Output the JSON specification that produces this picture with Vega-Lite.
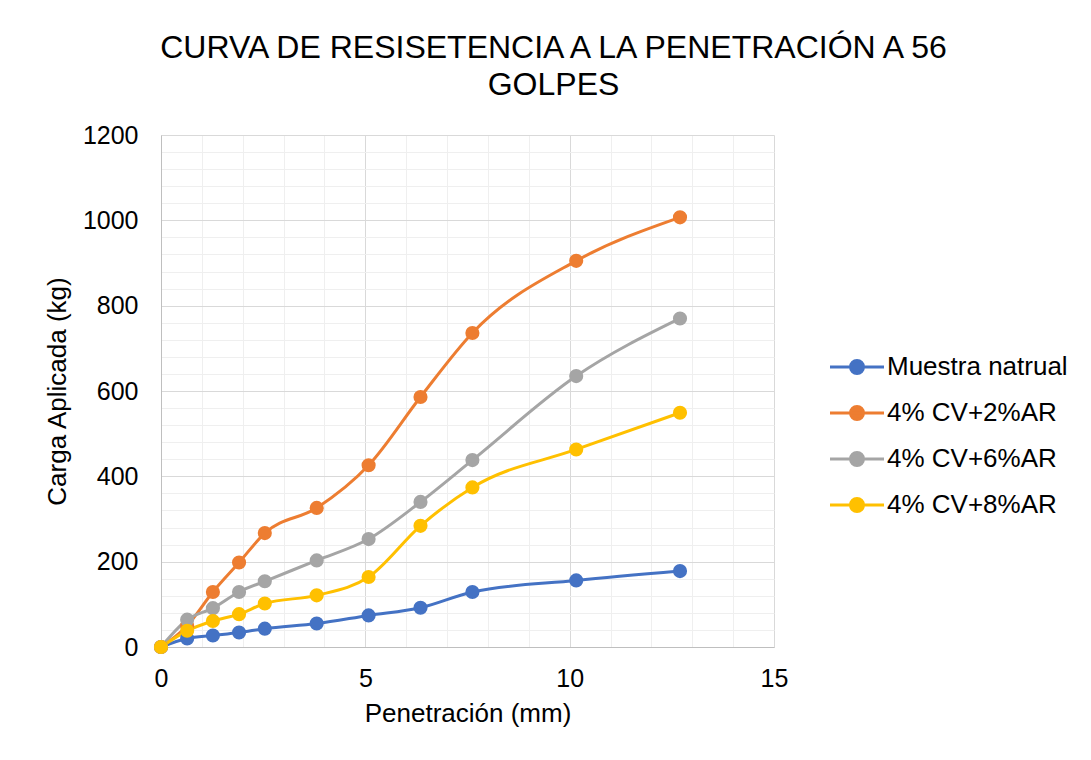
{
  "$schema": "https://vega.github.io/schema/vega-lite/v6.json",
  "width": 613,
  "height": 512,
  "autosize": {"type": "none"},
  "padding": {"left": 161, "top": 135, "right": 317, "bottom": 113},
  "background": "white",
  "config": {
    "font": "Liberation Sans",
    "view": {"stroke": null},
    "axis": {"labelColor": "#000000", "titleColor": "#000000", "titleFontWeight": "normal", "labelFlush": false}
  },
  "title": {
    "text": ["CURVA DE RESISETENCIA A LA PENETRACIÓN A 56", "GOLPES"],
    "fontSize": 32,
    "fontWeight": "normal",
    "color": "#000000",
    "anchor": "middle",
    "dx": 86,
    "offset": 21,
    "lineHeight": 37
  },
  "data": {
    "values": [
      {"serie": "Muestra natrual", "x": 0, "y": 0},
      {"serie": "Muestra natrual", "x": 0.64, "y": 20},
      {"serie": "Muestra natrual", "x": 1.27, "y": 27},
      {"serie": "Muestra natrual", "x": 1.91, "y": 34},
      {"serie": "Muestra natrual", "x": 2.54, "y": 43},
      {"serie": "Muestra natrual", "x": 3.81, "y": 55},
      {"serie": "Muestra natrual", "x": 5.08, "y": 74},
      {"serie": "Muestra natrual", "x": 6.35, "y": 92},
      {"serie": "Muestra natrual", "x": 7.62, "y": 129},
      {"serie": "Muestra natrual", "x": 10.16, "y": 156},
      {"serie": "Muestra natrual", "x": 12.7, "y": 178},
      {"serie": "4% CV+2%AR", "x": 0, "y": 0},
      {"serie": "4% CV+2%AR", "x": 0.64, "y": 50},
      {"serie": "4% CV+2%AR", "x": 1.27, "y": 129},
      {"serie": "4% CV+2%AR", "x": 1.91, "y": 198},
      {"serie": "4% CV+2%AR", "x": 2.54, "y": 267},
      {"serie": "4% CV+2%AR", "x": 3.81, "y": 326},
      {"serie": "4% CV+2%AR", "x": 5.08, "y": 426},
      {"serie": "4% CV+2%AR", "x": 6.35, "y": 586},
      {"serie": "4% CV+2%AR", "x": 7.62, "y": 736},
      {"serie": "4% CV+2%AR", "x": 10.16, "y": 905},
      {"serie": "4% CV+2%AR", "x": 12.7, "y": 1007},
      {"serie": "4% CV+6%AR", "x": 0, "y": 0},
      {"serie": "4% CV+6%AR", "x": 0.64, "y": 64},
      {"serie": "4% CV+6%AR", "x": 1.27, "y": 91},
      {"serie": "4% CV+6%AR", "x": 1.91, "y": 129},
      {"serie": "4% CV+6%AR", "x": 2.54, "y": 154},
      {"serie": "4% CV+6%AR", "x": 3.81, "y": 203},
      {"serie": "4% CV+6%AR", "x": 5.08, "y": 253},
      {"serie": "4% CV+6%AR", "x": 6.35, "y": 340},
      {"serie": "4% CV+6%AR", "x": 7.62, "y": 438},
      {"serie": "4% CV+6%AR", "x": 10.16, "y": 635},
      {"serie": "4% CV+6%AR", "x": 12.7, "y": 770},
      {"serie": "4% CV+8%AR", "x": 0, "y": 0},
      {"serie": "4% CV+8%AR", "x": 0.64, "y": 38},
      {"serie": "4% CV+8%AR", "x": 1.27, "y": 61},
      {"serie": "4% CV+8%AR", "x": 1.91, "y": 77},
      {"serie": "4% CV+8%AR", "x": 2.54, "y": 102},
      {"serie": "4% CV+8%AR", "x": 3.81, "y": 121},
      {"serie": "4% CV+8%AR", "x": 5.08, "y": 164},
      {"serie": "4% CV+8%AR", "x": 6.35, "y": 284},
      {"serie": "4% CV+8%AR", "x": 7.62, "y": 374},
      {"serie": "4% CV+8%AR", "x": 10.16, "y": 463},
      {"serie": "4% CV+8%AR", "x": 12.7, "y": 549}
    ]
  },
  "resolve": {"axis": {"x": "independent", "y": "independent"}},
  "layer": [
    {
      "mark": {"type": "line", "interpolate": "monotone", "strokeWidth": 3},
      "encoding": {
        "x": {
          "field": "x", "type": "quantitative",
          "scale": {"domain": [0, 15], "nice": false, "zero": false},
          "axis": {"orient": "bottom", "values": [0,1,2,3,4,6,7,8,9,11,12,13,14], "grid": true, "gridColor": "#efefef", "gridWidth": 1, "labels": false, "ticks": false, "domain": false, "title": null}
        },
        "y": {
          "field": "y", "type": "quantitative",
          "scale": {"domain": [0, 1200], "nice": false},
          "axis": {"orient": "left", "values": [40,80,120,160,240,280,320,360,440,480,520,560,640,680,720,760,840,880,920,960,1040,1080,1120,1160], "grid": true, "gridColor": "#efefef", "gridWidth": 1, "labels": false, "ticks": false, "domain": false, "title": null}
        },
        "color": {
          "field": "serie", "type": "nominal",
          "scale": {
            "domain": ["Muestra natrual", "4% CV+2%AR", "4% CV+6%AR", "4% CV+8%AR"],
            "range": ["#4472C4", "#ED7D31", "#A5A5A5", "#FFC000"]
          },
          "legend": {
            "orient": "none",
            "legendX": 683,
            "legendY": 219,
            "title": null,
            "padding": 0,
            "symbolType": "M-3.375,0L3.375,0M-0.81,0A0.81,0.81,0,1,1,0.81,0A0.81,0.81,0,1,1,-0.81,0Z",
            "symbolSize": 256,
            "symbolStrokeWidth": 3,
            "symbolOpacity": 1,
            "labelFontSize": 26,
            "labelColor": "#000000",
            "labelOffset": 17,
            "rowPadding": 20,
            "labelLimit": 300,
            "encode": {
              "symbols": {
                "update": {
                  "fill": {"scale": "color", "field": "value"},
                  "stroke": {"scale": "color", "field": "value"},
                  "fillOpacity": {"value": 1},
                  "strokeOpacity": {"value": 1}
                }
              }
            }
          }
        },
        "order": {"field": "x", "type": "quantitative"}
      }
    },
    {
      "mark": {"type": "point", "filled": true, "size": 200, "opacity": 1},
      "encoding": {
        "x": {
          "field": "x", "type": "quantitative",
          "axis": {"orient": "bottom", "values": [0, 5, 10, 15], "format": "d", "grid": true, "gridColor": "#d9d9d9", "gridWidth": 1, "domain": true, "domainColor": "#bfbfbf", "domainWidth": 1, "ticks": false, "labelFontSize": 25, "labelPadding": 19, "title": "Penetración (mm)", "titleFontSize": 26, "titlePadding": 9}
        },
        "y": {
          "field": "y", "type": "quantitative",
          "axis": {"orient": "left", "values": [0, 200, 400, 600, 800, 1000, 1200], "format": "d", "grid": true, "gridColor": "#d9d9d9", "gridWidth": 1, "domain": true, "domainColor": "#bfbfbf", "domainWidth": 1, "ticks": false, "labelFontSize": 25, "labelPadding": 23, "title": "Carga Aplicada (kg)", "titleFontSize": 26, "titlePadding": 12}
        },
        "color": {
          "field": "serie", "type": "nominal"
        }
      }
    }
  ]
}
